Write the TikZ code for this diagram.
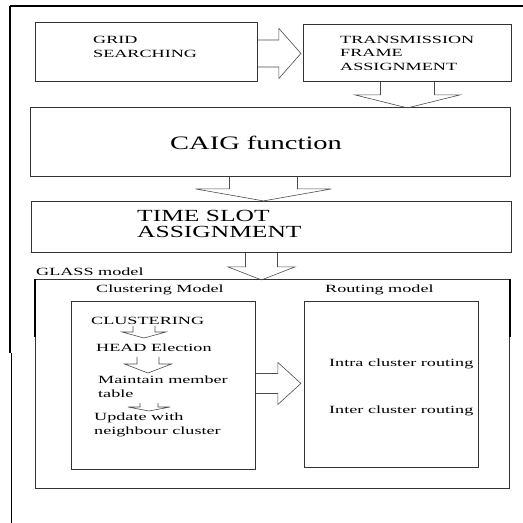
\documentclass[tikz,border=0pt]{standalone}
\usepackage{fontspec}
\setmainfont{Liberation Serif}
\newfontfamily\labelfont[FakeStretch=1.65]{Liberation Serif}
\newfontfamily\bigfont[FakeStretch=1.5]{Liberation Serif}
\usepackage{tikz}
\usetikzlibrary{calc}
\tikzset{%
    box/.style={draw=black!80, line width=0.9pt, anchor=north west, inner sep=0pt},
    blockarrow/.style={draw=black!70, line width=0.6pt, line join=miter},
    lbl/.style={anchor=base west, inner sep=0pt, align=left,
        font=\labelfont\fontsize{11}{13.2}\selectfont}
}
% block arrows: start, shaft half width, head half width, shaft length, head length
\newcommand{\blockdown}[5]{%
    \draw[blockarrow] #1 ++(-#2,0) -- ++(0,#4) -- ++(#2-#3,0) -- ++(#3,#5)
        -- ++(#3,-#5) -- ++(#2-#3,0) -- ++(0,-#4);}
\newcommand{\blockright}[5]{%
    \draw[blockarrow] #1 ++(0,-#2) -- ++(#4,0) -- ++(0,#2-#3) -- ++(#5,#3)
        -- ++(-#5,#3) -- ++(0,#2-#3) -- ++(-#4,0);}

\begin{document}
\begin{tikzpicture}[x=1pt,y=-1pt]
\useasboundingbox (0,0) rectangle (523,523);
% outer frame
\draw[line width=1.2pt] (10,6) -- (523,6);
\draw[line width=2pt] (10,6) -- (10,353);
\draw[line width=1pt] (11.5,353) -- (11.5,523);

\node[box, minimum width=222pt, minimum height=59pt] (grid) at (35,22) {};
\node[box, minimum width=208pt, minimum height=57pt] (trans) at (303,24) {};
\node[box, minimum width=480pt, minimum height=69pt] (caig) at (30,107) {};
\node[box, minimum width=480pt, minimum height=51pt] (slot) at (31,201) {};
\node[box, minimum width=474pt, minimum height=209pt] (glass) at (35,279) {};
\node[box, minimum width=184pt, minimum height=168pt] (clus) at (71,301) {};
\node[box, minimum width=174pt, minimum height=166pt] (rout) at (304,301) {};
\draw[line width=2pt] (glass.north west) -- ++(0,58);
\draw[line width=2pt] (glass.north east) -- ++(0,58);

% multi-line labels sit on the baseline of their last line
\node[lbl] (gridtxt) at (93,57) {GRID\\SEARCHING};
\node[lbl] (transtxt) at (340,70) {TRANSMISSION\\FRAME\\ASSIGNMENT};
\node[anchor=base west, inner sep=0pt, font=\bigfont\fontsize{19}{22}\selectfont]
    (caigtxt) at (170,149) {CAIG function};
\node[anchor=base west, inner sep=0pt, align=left, font=\bigfont\fontsize{17}{15.5}\selectfont]
    (slottxt) at (137,237) {TIME SLOT\\ASSIGNMENT};
\node[lbl] (glasstxt) at (36,275) {GLASS model};
\node[lbl] (clustxt) at (96,292) {Clustering Model};
\node[lbl] (routtxt) at (325,292) {Routing model};
\node[lbl] (cl) at (91,324) {CLUSTERING};
\node[lbl] (head) at (96,351) {HEAD Election};
\node[lbl] (member) at (98,397) {Maintain member\\table};
\node[lbl] (update) at (94,434) {Update with\\neighbour cluster};
\node[lbl] (intra) at (329,366) {Intra cluster routing};
\node[lbl] (inter) at (329,413) {Inter cluster routing};

\blockright{($(grid.east)+(0,1.5)$)}{13.5}{25}{21}{22}
\blockdown{(trans.south)}{27}{52.5}{13}{13}
\blockdown{($(caig.south)+(-7,0)$)}{34}{68}{12}{12}
\blockdown{($(slot.south)+(-10,0)$)}{16}{33.5}{14}{13}
\blockright{($(clus.east)+(0,-2)$)}{10}{21}{22}{23}
\blockdown{($(clus.north west)+(73,25)$)}{11}{22}{6}{6}
\blockdown{($(clus.north west)+(77,56)$)}{11}{23.5}{7}{9}
\blockdown{($(clus.north west)+(78,102)$)}{9}{21}{4}{4}
\end{tikzpicture}
\end{document}
